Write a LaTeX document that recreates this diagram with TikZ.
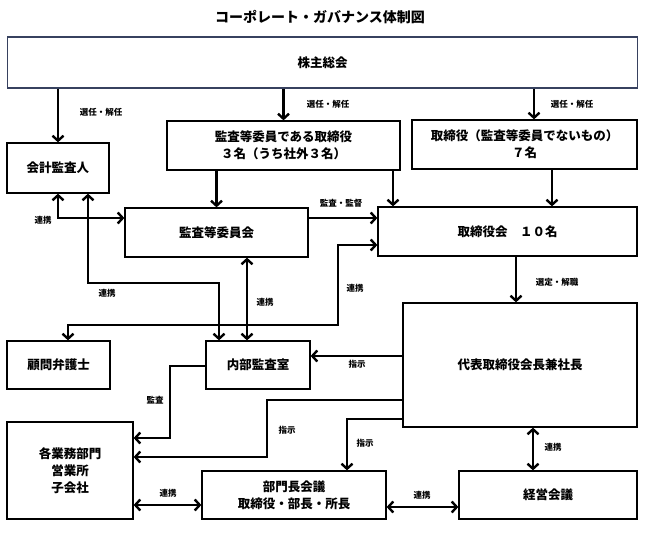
\documentclass[tikz,border=0pt]{standalone}
\usepackage{fontspec}
\setmainfont{Noto Sans CJK JP}
\usepackage{xcolor}
\usepackage{tikz}
\usetikzlibrary{positioning,arrows.meta}
\definecolor{kabuline}{RGB}{55,65,95}

\begin{document}
\begin{tikzpicture}[x=1pt, y=-1pt,
  box/.style={draw=black, line width=1.3pt, fill=white, align=center,
    font=\fontsize{12.5}{17}\selectfont\bfseries, inner sep=0pt},
  arr/.style={line width=2.4pt, -{Straight Barb[length=5pt, width=11pt]}},
  darr/.style={line width=2.4pt, {Straight Barb[length=5pt, width=11pt]}-{Straight Barb[length=5pt, width=11pt]}},
  lab/.style={font=\fontsize{8.5}{10}\selectfont\bfseries, inner sep=1pt}]
\useasboundingbox (0,0) rectangle (645,534);
% everything in pixel units of the original figure

% 1. Boxes
\node[font=\fontsize{14}{16}\selectfont\bfseries] (title) at (320,17) {コーポレート・ガバナンス体制図};
\node[box, draw=kabuline, minimum width=630, minimum height=51] (kabu) at (322.5,62.5) {株主総会};
\node[box, minimum width=102, minimum height=50] (kaikei) at (58,168) {会計監査人};
\node[box, minimum width=233, minimum height=49] (kansatori) at (283.5,145.5) {監査等委員である取締役\\３名（うち社外３名）};
\node[box, minimum width=225, minimum height=49] (tori7) at (524.5,144.5) {取締役（監査等委員でないもの）\\７名};
\node[box, minimum width=183, minimum height=49] (iinkai) at (216.5,232.5) {監査等委員会};
\node[box, minimum width=259, minimum height=49] (torikai) at (507.5,231.5) {取締役会　１０名};
\node[box, minimum width=234, minimum height=124] (daihyo) at (520,365) {代表取締役会長兼社長};
\node[box, minimum width=103, minimum height=48] (komon) at (58.5,365) {顧問弁護士};
\node[box, minimum width=104, minimum height=48] (naibu) at (258,365) {内部監査室};
\node[box, minimum width=126, minimum height=97] (gyomu) at (70,470.5) {各業務部門\\営業所\\子会社};
\node[box, minimum width=184, minimum height=48] (bumon) at (294,495) {部門長会議\\取締役・部長・所長};
\node[box, minimum width=178, minimum height=48] (keiei) at (548,495) {経営会議};

% 2. Routing points
\coordinate (xr) at (534,0);
\coordinate (xa) at (393,0);
\coordinate (xb) at (552,0);
\coordinate (ykan) at (0,218);
\coordinate (bk) at (88,283);
\coordinate (xn) at (219,0);
\coordinate (xi) at (247,0);
\coordinate (bt) at (338,245);
\coordinate (bl) at (338,325);
\coordinate (bc) at (68,325);
\coordinate (xs) at (516,0);
\coordinate (ys) at (0,356);
\coordinate (ma) at (170,366);
\coordinate (mb) at (170,438);
\coordinate (sa) at (267,400);
\coordinate (sb) at (267,457);
\coordinate (sc) at (347,419);
\coordinate (xk) at (533,0);
\coordinate (yg) at (0,505);
\coordinate (yb) at (0,507);

% 3. Connectors
\draw[arr] (kaikei.north |- kabu.south) -- (kaikei.north);
\draw[arr] (kansatori.north |- kabu.south) -- (kansatori.north);
\draw[arr] (kabu.south -| xr) -- (tori7.north -| xr);
\draw[arr] (kansatori.south -| iinkai.north) -- (iinkai.north);
\draw[arr] (kansatori.south -| xa) -- (torikai.north -| xa);
\draw[arr] (tori7.south -| xb) -- (torikai.north -| xb);
\draw[arr] (iinkai.east |- ykan) -- (torikai.west |- ykan);
\draw[darr] (kaikei.south) -- (kaikei.south |- ykan) -- (iinkai.west |- ykan);
\draw[darr] (kaikei.south -| bk) -- (bk) -- (bk -| xn) -- (naibu.north -| xn);
\draw[darr] (iinkai.south -| xi) -- (naibu.north -| xi);
\draw[darr] (torikai.west |- bt) -- (bt) -- (bl) -- (bc) -- (komon.north -| bc);
\draw[arr] (torikai.south -| xs) -- (daihyo.north -| xs);
\draw[arr] (daihyo.west |- ys) -- (naibu.east |- ys);
\draw[arr] (naibu.west |- ma) -- (ma) -- (mb) -- (gyomu.east |- mb);
\draw[arr] (daihyo.west |- sa) -- (sa) -- (sb) -- (gyomu.east |- sb);
\draw[arr] (daihyo.west |- sc) -- (sc) -- (bumon.north -| sc);
\draw[darr] (daihyo.south -| xk) -- (keiei.north -| xk);
\draw[darr] (gyomu.east |- yg) -- (bumon.west |- yg);
\draw[darr] (bumon.east |- yb) -- (keiei.west |- yb);

% 4. Labels
\node[lab] at (101,112) {選任・解任};
\node[lab] at (328,104) {選任・解任};
\node[lab] at (572,104) {選任・解任};
\node[lab] at (341,203) {監査・監督};
\node[lab] at (43,220) {連携};
\node[lab] at (107,293) {連携};
\node[lab] at (265,302) {連携};
\node[lab] at (355,288) {連携};
\node[lab] at (557,282) {選定・解職};
\node[lab] at (357,364) {指示};
\node[lab] at (155,400) {監査};
\node[lab] at (287,430) {指示};
\node[lab] at (365,443) {指示};
\node[lab] at (553,447) {連携};
\node[lab] at (168,493) {連携};
\node[lab] at (422,495) {連携};

\end{tikzpicture}
\end{document}
